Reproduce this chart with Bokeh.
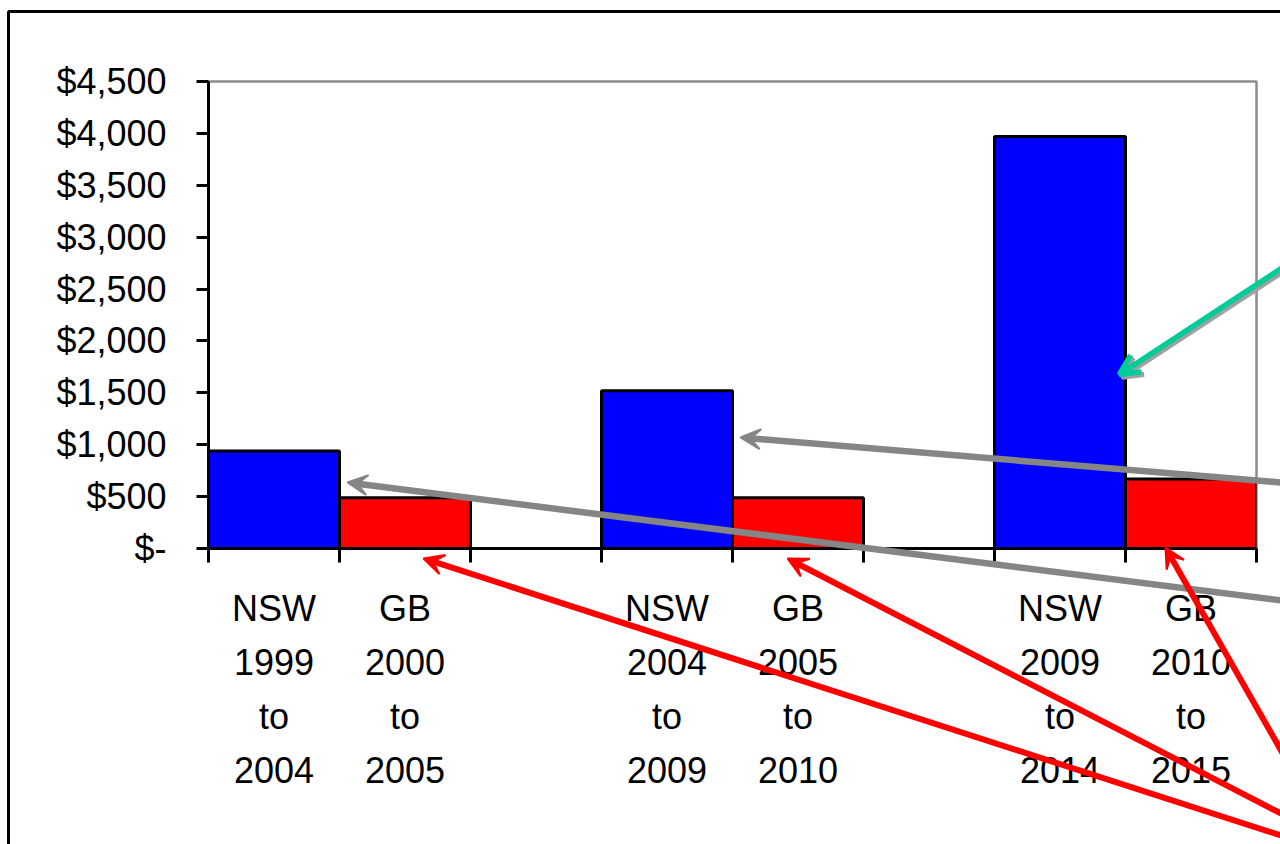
from bokeh.plotting import figure
from bokeh.models import (Range1d, FixedTicker, Arrow, VeeHead, OpenHead,
                          BoxAnnotation)
from bokeh.embed import file_html
from bokeh.resources import INLINE

# Average cost per period, NSW vs GB
nsw_labels = ["NSW\n1999\nto\n2004", "NSW\n2004\nto\n2009", "NSW\n2009\nto\n2014"]
gb_labels = ["GB\n2000\nto\n2005", "GB\n2005\nto\n2010", "GB\n2010\nto\n2015"]
nsw_values = [940, 1520, 3970]
gb_values = [490, 490, 670]
y_ticks = [0, 500, 1000, 1500, 2000, 2500, 3000, 3500, 4000, 4500]
y_tick_labels = ["$-", "$500", "$1,000", "$1,500", "$2,000", "$2,500",
                 "$3,000", "$3,500", "$4,000", "$4,500"]

FONT = "'Liberation Sans', Arial, sans-serif"

# each group takes three slots: NSW bar, GB bar, empty gap
n_groups = len(nsw_values)
nsw_x = [3 * g + 0.5 for g in range(n_groups)]
gb_x = [3 * g + 1.5 for g in range(n_groups)]
n_slots = 3 * n_groups - 1

W, H = 1280, 844
LEFT, RIGHT, TOP, BOTTOM = 208, 1256, 81, 548
Y_MAX = y_ticks[-1]

p = figure(width=W, height=H, output_backend="svg", toolbar_location=None,
           x_range=Range1d(0, n_slots), y_range=Range1d(0, Y_MAX),
           title=None)
p.min_border_left = LEFT
p.min_border_right = W - RIGHT
p.min_border_top = TOP
p.min_border_bottom = H - BOTTOM
p.background_fill_color = "white"
p.border_fill_color = "white"
p.grid.visible = False
p.outline_line_color = "#8c8c8c"
p.outline_line_width = 2.5

# bars
p.vbar(x=nsw_x, top=nsw_values, width=1.0, bottom=0,
       fill_color="#0000ff", line_color="black", line_width=3)
p.vbar(x=gb_x, top=gb_values, width=1.0, bottom=0,
       fill_color="#ff0000", line_color="black", line_width=3)

# y axis
ya = p.yaxis[0]
ya.ticker = FixedTicker(ticks=y_ticks, minor_ticks=[])
ya.major_label_overrides = {t: s for t, s in zip(y_ticks, y_tick_labels)}
ya.axis_line_color = "black"
ya.axis_line_width = 3
ya.major_tick_line_color = "black"
ya.major_tick_line_width = 3
ya.major_tick_out = 12
ya.major_tick_in = 0
ya.minor_tick_out = 0
ya.minor_tick_in = 0
ya.major_label_standoff = 30
ya.major_label_text_font = FONT
ya.major_label_text_font_size = "36px"
ya.major_label_text_color = "black"

# x axis: labels under bar centres, tick marks on slot boundaries
xa = p.xaxis[0]
xa.ticker = FixedTicker(ticks=nsw_x + gb_x,
                        minor_ticks=list(range(0, n_slots + 1)))
xa.major_label_overrides = {**dict(zip(nsw_x, nsw_labels)),
                            **dict(zip(gb_x, gb_labels))}
xa.axis_line_color = "black"
xa.axis_line_width = 3
xa.major_tick_out = 0
xa.major_tick_in = 0
xa.minor_tick_out = 14
xa.minor_tick_in = 0
xa.minor_tick_line_color = "black"
xa.minor_tick_line_width = 3
xa.major_label_standoff = 25
xa.major_label_text_font = FONT
xa.major_label_text_font_size = "36px"
xa.major_label_text_line_height = 1.32
xa.major_label_text_color = "black"
xa.major_label_text_align = "center"

# transparent overlay sharing the chart's data scale, spanning the whole
# canvas so callout arrows can run past the plot area
px_x = n_slots / (RIGHT - LEFT)
px_y = Y_MAX / (BOTTOM - TOP)
q = figure(width=W, height=H, output_backend="svg", toolbar_location=None,
           x_range=Range1d(-LEFT * px_x, n_slots + (W - RIGHT) * px_x),
           y_range=Range1d(-(H - BOTTOM) * px_y, Y_MAX + TOP * px_y),
           x_axis_type=None, y_axis_type=None, title=None, min_border=0)
q.grid.visible = False
q.outline_line_color = None
q.background_fill_alpha = 0
q.border_fill_alpha = 0
q.styles = {"position": "absolute", "left": "0px", "top": "0px"}


def arrow(x0, y0, x1, y1, color, head, width=6):
    q.add_layout(Arrow(x_start=x0, y_start=y0, x_end=x1, y_end=y1,
                       line_color=color, line_width=width, end=head))


# green arrow with a soft grey drop shadow
g0, g1 = (8.34, 2823), (6.954, 1677)
arrow(g0[0] + 2.5 * px_x, g0[1] - 2.5 * px_y,
      g1[0] + 2.5 * px_x, g1[1] - 2.5 * px_y,
      "#a0a0a0", OpenHead(size=20, line_color="#a0a0a0", line_width=5.5),
      width=5.5)
arrow(g0[0], g0[1], g1[0], g1[1], "#00cc99",
      OpenHead(size=20, line_color="#00cc99", line_width=5.5), width=5.5)

grey = "#858585"
arrow(8.34, 620, 4.061, 1070, grey,
      VeeHead(size=20, fill_color=grey, line_color=grey, line_width=2),
      width=6.5)
arrow(8.34, -525, 1.061, 636, grey,
      VeeHead(size=20, fill_color=grey, line_color=grey, line_width=2),
      width=6.5)

red = "#ff0000"
arrow(8.34, -2828, 1.641, -96, red,
      VeeHead(size=20, fill_color=red, line_color=red, line_width=2))
arrow(8.34, -2653, 4.42, -96, red,
      VeeHead(size=20, fill_color=red, line_color=red, line_width=2))
arrow(8.34, -2284, 7.305, 10, red,
      VeeHead(size=20, fill_color=red, line_color=red, line_width=2))

# outer slide frame
q.add_layout(BoxAnnotation(left=8, right=W + 50, top=11, bottom=H + 50,
                           left_units="canvas", right_units="canvas",
                           top_units="canvas", bottom_units="canvas",
                           fill_alpha=0, line_color="black", line_alpha=1,
                           line_width=3, editable=False))

open("out.html", "w").write(file_html([p, q], INLINE))
